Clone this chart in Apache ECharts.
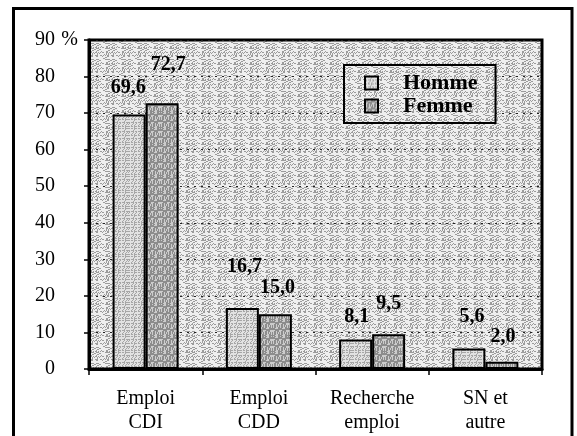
<!DOCTYPE html>
<html>
<head>
<meta charset="utf-8">
<script src="https://cdn.jsdelivr.net/npm/echarts@6/dist/echarts.min.js"></script>
<style>
  html, body { margin: 0; padding: 0; background: #fff; }
  #chart { width: 577px; height: 436px; }
</style>
</head>
<body>
<div id="chart"></div>
<script>
  // donnees
  var categories = ['Emploi\nCDI', 'Emploi\nCDD', 'Recherche\nemploi', 'SN et\nautre']
  var homme = [69.6, 16.7, 8.1, 5.6]
  var femme = [72.7, 15.0, 9.5, 2.0]
  var yTicks = [0, 10, 20, 30, 40, 50, 60, 70, 80, 90]

  // decalage des etiquettes (style)
  var offHomme = [[-1, -12], [2, -26], [1, -8], [3, -17]]
  var offFemme = [[6, -23], [2, -11], [0, -15], [1, -10]]

  var serif = 'Liberation Serif'

  // petite trame grise (remplace le pointille du scan)
  function makePattern(fn) {
    var c = document.createElement('canvas')
    c.width = 16
    c.height = 16
    var ctx = c.getContext('2d')
    for (var x = 0; x < 16; x++) {
      for (var y = 0; y < 16; y++) {
        ctx.fillStyle = fn(x, y)
        ctx.fillRect(x, y, 1, 1)
      }
    }
    return { image: c, repeat: 'repeat' }
  }
  var bgPat = makePattern(function(x, y) {
    return ((x * x * 3 + y * y * 5 + x * y) % 11 < 4) ? '#9c9c9c' : '#efefef'
  })
  var hommePat = makePattern(function(x, y) {
    return ((x * x + y * 3 + x * y * 2) % 7 < 3) ? '#a6a6a6' : '#e2e2e2'
  })
  var femmePat = makePattern(function(x, y) {
    return ((x * 5 + y * y * 2 + x * y) % 7 < 4) ? '#8c8c8c' : '#cccccc'
  })

  function withLabels(values, offs) {
    return values.map(function(v, i) {
      return { value: v, label: { offset: offs[i] } }
    })
  }

  var chart = echarts.init(document.getElementById('chart'))
  chart.setOption({
    animation: false,
    backgroundColor: '#fff',
    textStyle: { fontFamily: serif, color: '#000' },
    graphic: [{
      type: 'rect',
      shape: { x: 13.5, y: 8.5, width: 558.5, height: 430 },
      style: { fill: 'none', stroke: '#000', lineWidth: 3 },
      silent: true
    }],
    grid: {
      left: 89,
      top: 40,
      right: 35,
      bottom: 67,
      show: true,
      backgroundColor: bgPat,
      borderColor: '#000',
      borderWidth: 3,
      containLabel: false,
      outerBoundsMode: 'none'
    },
    legend: {
      orient: 'vertical',
      left: 344,
      top: 65,
      padding: [7, 18, 6, 20],
      itemGap: 1,
      itemWidth: 13,
      itemHeight: 13,
      icon: 'rect',
      borderColor: '#000',
      borderWidth: 2,
      backgroundColor: bgPat,
      itemStyle: { borderColor: '#000', borderWidth: 2 },
      textStyle: {
        fontFamily: serif,
        fontWeight: 'bold',
        fontSize: 22,
        color: '#000',
        padding: [0, 0, 0, 20]
      },
      data: ['Homme', 'Femme']
    },
    xAxis: {
      type: 'category',
      data: categories,
      axisLine: { lineStyle: { color: '#000', width: 3 } },
      axisTick: { show: true, length: 6, lineStyle: { color: '#000', width: 1.5 } },
      axisLabel: {
        color: '#000',
        fontFamily: serif,
        fontSize: 20,
        lineHeight: 24,
        margin: 18
      }
    },
    yAxis: {
      type: 'value',
      min: 0,
      max: 90,
      interval: 10,
      name: '%',
      nameLocation: 'end',
      nameGap: 0,
      nameTextStyle: {
        fontFamily: serif,
        fontSize: 20,
        color: '#000',
        align: 'right',
        verticalAlign: 'middle',
        padding: [0, 11, 0, 0]
      },
      axisLine: { show: true, lineStyle: { color: '#000', width: 3 } },
      axisTick: { show: true, length: 5, lineStyle: { color: '#000', width: 1.5 } },
      axisLabel: {
        color: '#000',
        fontFamily: serif,
        fontSize: 20,
        margin: 34,
        formatter: function(v) { return yTicks.indexOf(v) >= 0 ? String(v) : '' }
      },
      splitLine: {
        show: true,
        lineStyle: { color: '#222', width: 1, type: [2, 5] }
      }
    },
    series: [{
      name: 'Homme',
      type: 'bar',
      barWidth: 33,
      barGap: '0%',
      itemStyle: { color: hommePat, borderColor: '#000', borderWidth: 2 },
      label: {
        show: true,
        position: 'top',
        fontFamily: serif,
        fontWeight: 'bold',
        fontSize: 20,
        color: '#000',
        formatter: function(p) { return p.value.toFixed(1).replace('.', ',') }
      },
      data: withLabels(homme, offHomme)
    }, {
      name: 'Femme',
      type: 'bar',
      barWidth: 33,
      itemStyle: { color: femmePat, borderColor: '#000', borderWidth: 2 },
      label: {
        show: true,
        position: 'top',
        fontFamily: serif,
        fontWeight: 'bold',
        fontSize: 20,
        color: '#000',
        formatter: function(p) { return p.value.toFixed(1).replace('.', ',') }
      },
      data: withLabels(femme, offFemme)
    }]
  })
</script>
</body>
</html>
